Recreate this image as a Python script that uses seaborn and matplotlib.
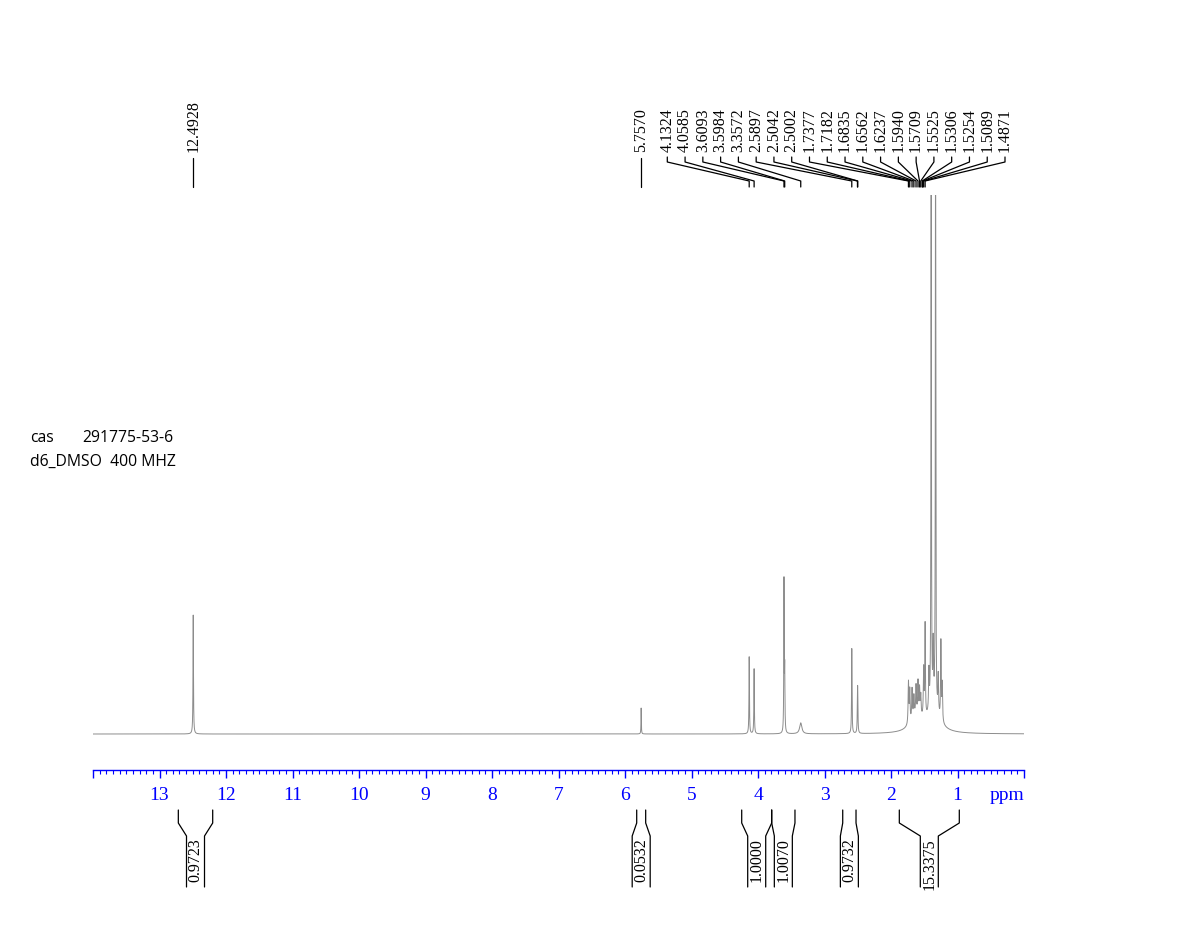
import numpy as np
import pandas as pd
import matplotlib
matplotlib.use("Agg")
import matplotlib.pyplot as plt
import seaborn as sns

# ---------- data ----------
peak_ppm = [12.4928, 5.7570, 4.1324, 4.0585, 3.6093, 3.5984, 3.3572,
            2.5897, 2.5042, 2.5002,
            1.7377, 1.7182, 1.6835, 1.6562, 1.6237, 1.5940, 1.5709, 1.5525,
            1.5089, 1.4871, 1.430, 1.396, 1.365, 1.330, 1.290, 1.250, 1.230,
            1.62, 1.36]
peak_height = [119, 26, 77, 65, 150, 60, 11,
               85, 30, 30,
               42, 32, 30, 20, 28, 32, 26, 20,
               48, 92, 40, 600, 60, 600, 38, 78, 38,
               16, 20]
peak_hwhm = [0.004, 0.003, 0.004, 0.004, 0.0035, 0.004, 0.02,
             0.004, 0.004, 0.004,
             0.006, 0.006, 0.006, 0.006, 0.006, 0.006, 0.006, 0.006,
             0.006, 0.005, 0.006, 0.004, 0.006, 0.004, 0.006, 0.005, 0.006,
             0.1, 0.11]

single_labels = ["12.4928", "5.7570"]
cluster_labels = ["4.1324", "4.0585", "3.6093", "3.5984", "3.3572", "2.5897",
                  "2.5042", "2.5002", "1.7377", "1.7182", "1.6835", "1.6562",
                  "1.6237", "1.5940", "1.5709", "1.5525", "1.5306", "1.5254",
                  "1.5089", "1.4871"]

integral_ranges = [(12.717, 12.200), (5.824, 5.689), (4.245, 3.794),
                   (3.794, 3.444), (2.726, 2.526), (1.875, 0.973)]
integral_values = ["0.9723", "0.0532", "1.0000", "1.0070", "0.9732", "15.3375"]

major_ticks = list(range(0, 15))

# ---------- build the trace ----------
ppm = np.linspace(14, 0, 40001)
intensity = np.zeros_like(ppm)
for x0, h, g in zip(peak_ppm, peak_height, peak_hwhm):
    intensity += h * g ** 2 / ((ppm - x0) ** 2 + g ** 2)
spec = pd.DataFrame({"ppm": ppm, "intensity": intensity})

# ---------- figure ----------
W, H = 1178, 952
LEFT_PX, RIGHT_PX = 93, 1024
PX_PER_PPM = (RIGHT_PX - LEFT_PX) / 14
BASE_PX, AX_BOTTOM_PX, AX_TOP_PX = 734, 770, 195


def px2ppm(px):
    return 14 - (px - LEFT_PX) / PX_PER_PPM


def ydat(py):
    return BASE_PX - py


sns.set_theme(style="white")
plt.rcParams["font.family"] = ["Liberation Serif", "DejaVu Serif"]
plt.rcParams["text.color"] = "black"

fig = plt.figure(figsize=(W / 100, H / 100), dpi=100)
ax = fig.add_axes([LEFT_PX / W, 1 - AX_BOTTOM_PX / H,
                   (RIGHT_PX - LEFT_PX) / W, (AX_BOTTOM_PX - AX_TOP_PX) / H])
ax.set_facecolor("none")

sns.lineplot(data=spec, x="ppm", y="intensity", ax=ax, color="#8c8c8c",
             linewidth=0.7, estimator=None, sort=False)
ax.set_xlim(14, 0)
ax.set_ylim(ydat(AX_BOTTOM_PX), ydat(AX_TOP_PX))
ax.set_xlabel("")
ax.set_ylabel("")
ax.set_yticks([])

blue = "#0000ff"
for s in ["top", "left", "right"]:
    ax.spines[s].set_visible(False)
ax.spines["bottom"].set_color(blue)
ax.spines["bottom"].set_linewidth(1.0)
ax.set_xticks(major_ticks)
ax.set_xticklabels(["" if t in (0, 14) else str(t) for t in major_ticks])
ax.set_xticks(np.arange(0, 14.01, 0.1), minor=True)
ax.tick_params(axis="x", which="major", direction="out", length=6, width=1,
               color=blue, labelcolor=blue, labelsize=14, pad=6, bottom=True)
ax.tick_params(axis="x", which="minor", direction="out", length=3, width=0.8,
               color=blue, bottom=True)
ax.text(px2ppm(990), ydat(796), "ppm", color=blue, fontsize=14,
        ha="left", va="center", clip_on=False)

# ---------- peak labels ----------
for lab in single_labels:
    x = float(lab)
    ax.plot([x, x], [ydat(158), ydat(187)], color="black", lw=0.9, clip_on=False)
    ax.text(x, ydat(152), lab, rotation=90, ha="center", va="bottom",
            fontsize=11.5, color="black", clip_on=False)

label_px = np.linspace(667.3, 1005, len(cluster_labels))
for lab, lx in zip(cluster_labels, label_px):
    xl = px2ppm(lx)
    xp = float(lab)
    ax.plot([xl, xl, xp, xp], [ydat(157), ydat(162), ydat(181), ydat(187)],
            color="black", lw=0.9, clip_on=False)
    ax.text(xl, ydat(152), lab, rotation=90, ha="center", va="bottom",
            fontsize=11.5, color="black", clip_on=False)

# ---------- integrals ----------
half_w = 9 / PX_PER_PPM
for (a, b), val in zip(integral_ranges, integral_values):
    c = (a + b) / 2
    for edge, inner in ((a, c + half_w), (b, c - half_w)):
        ax.plot([edge, edge, inner, inner],
                [ydat(810), ydat(823), ydat(836), ydat(887)],
                color="black", lw=0.9, clip_on=False)
    ax.text(c, ydat(838), val, rotation=90, ha="center", va="top",
            fontsize=11.5, color="black", clip_on=False)

# ---------- sample info ----------
info_font = ["Open Sans", "DejaVu Sans"]
fig.text(30 / W, 1 - 442 / H, "cas", fontsize=11.3, color="black", family=info_font)
fig.text(82 / W, 1 - 442 / H, "291775-53-6", fontsize=11.3, color="black", family=info_font)
fig.text(30 / W, 1 - 466 / H, "d6_DMSO  400 MHZ", fontsize=11.3, color="black", family=info_font)

fig.savefig("out.png", dpi=100)
